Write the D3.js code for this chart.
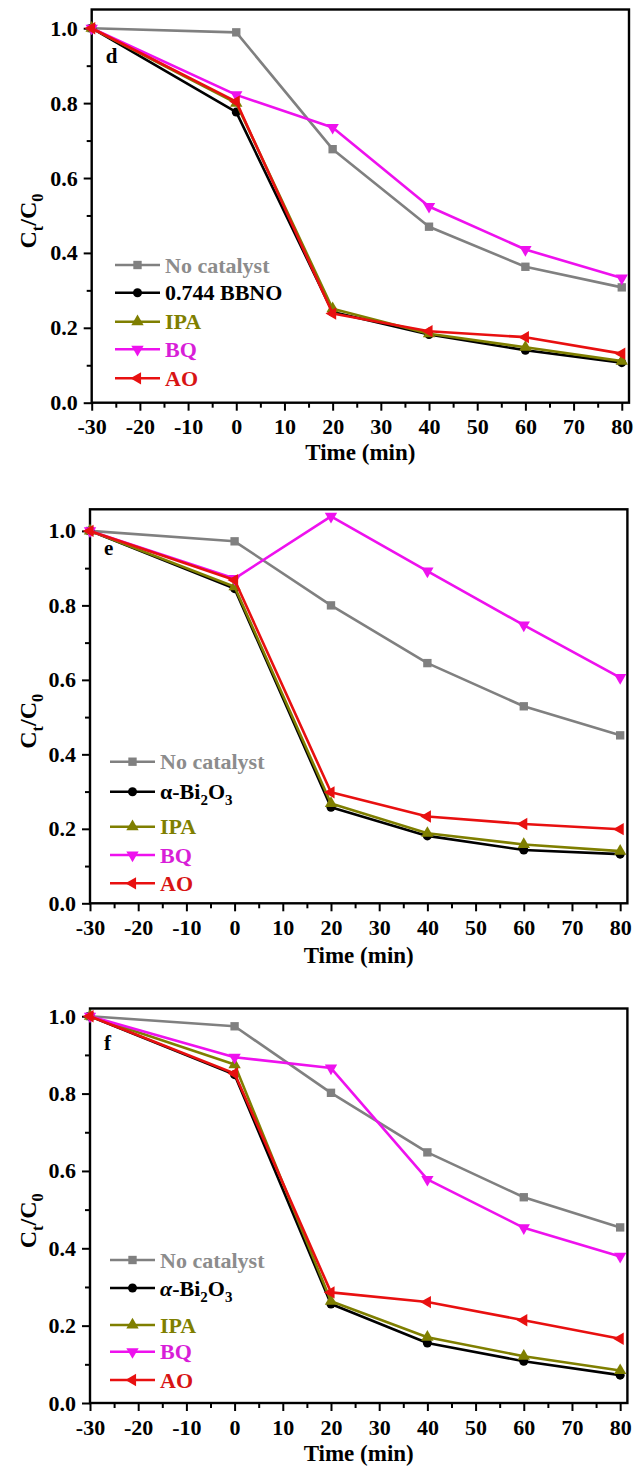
<!DOCTYPE html>
<html><head><meta charset="utf-8">
<script src="https://cdn.jsdelivr.net/npm/d3@7"></script>
<style>body{margin:0;background:#fff}</style>
</head><body>
<script>
// ---------- data ----------
const times = [-30, 0, 20, 40, 60, 80];
const xTicks = [-30, -20, -10, 0, 10, 20, 30, 40, 50, 60, 70, 80];
const xMinor = [-25, -15, -5, 5, 15, 25, 35, 45, 55, 65, 75];
const yTicks = [0, 0.2, 0.4, 0.6, 0.8, 1.0];
const yMinor = [0.1, 0.3, 0.5, 0.7, 0.9];

const dLabels = ["No catalyst", "0.744 BBNO", "IPA", "BQ", "AO"];
const eLabels = ["No catalyst", "α-Bi_2O_3", "IPA", "BQ", "AO"];
const fLabels = ["No catalyst", "α-Bi_2O_3", "IPA", "BQ", "AO"];

const dNoCat = [1.0, 0.989, 0.677, 0.470, 0.363, 0.308];
const dCat   = [1.0, 0.776, 0.242, 0.182, 0.140, 0.107];
const dIPA   = [1.0, 0.800, 0.251, 0.184, 0.148, 0.111];
const dBQ    = [1.0, 0.822, 0.735, 0.524, 0.409, 0.333];
const dAO    = [1.0, 0.804, 0.238, 0.191, 0.175, 0.131];

const eNoCat = [1.0, 0.972, 0.800, 0.645, 0.529, 0.451];
const eCat   = [1.0, 0.845, 0.258, 0.181, 0.143, 0.132];
const eIPA   = [1.0, 0.850, 0.268, 0.188, 0.158, 0.140];
const eBQ    = [1.0, 0.872, 1.039, 0.892, 0.747, 0.606];
const eAO    = [1.0, 0.868, 0.298, 0.233, 0.213, 0.199];

const fNoCat = [1.0, 0.974, 0.802, 0.648, 0.532, 0.454];
const fCat   = [1.0, 0.849, 0.256, 0.155, 0.108, 0.072];
const fIPA   = [1.0, 0.875, 0.263, 0.170, 0.121, 0.084];
const fBQ    = [1.0, 0.894, 0.866, 0.578, 0.453, 0.379];
const fAO    = [1.0, 0.852, 0.286, 0.261, 0.214, 0.166];

// ---------- style ----------
const colors = ["#808080", "#000000", "#7f7f00", "#ee11ee", "#e81010"];
const textColors = ["#8c8c8c", "#000000", "#7f7f00", "#d81ed8", "#d81414"];
const shapes = [d3.symbolSquare, d3.symbolCircle, d3.symbolTriangle, d3.symbolTriangle, d3.symbolTriangle];
const rots = [0, 0, 0, 180, -90];
const sizes = [70, 64, 66, 66, 66];
const FONT = "'Liberation Serif','Times New Roman',serif";

const W = 634, H = 1468;
const svg = d3.select("body").append("svg").attr("width", W).attr("height", H)
  .style("font-family", FONT).style("font-weight", "bold");

function addSubText(sel, label, size) {
  const parts = label.split(/_(\w)/);
  parts.forEach((p, i) => {
    if (p === "") return;
    if (i % 2 === 1) {
      sel.append("tspan").attr("font-size", size * 0.68).attr("dy", size * 0.28).text(p);
    } else {
      sel.append("tspan").attr("dy", i === 0 ? 0 : -size * 0.28).text(p);
    }
  });
}

function panel(cfg) {
  const x = d3.scaleLinear().domain([-30, 81.5]).range([cfg.left, cfg.right]);
  const y = d3.scaleLinear().domain([0, cfg.ymax]).range([cfg.bottom, cfg.top]);
  const g = svg.append("g");

  // x axis
  g.append("g").attr("transform", `translate(0,${cfg.bottom})`)
    .call(d3.axisBottom(x).tickValues(xTicks).tickSize(8).tickSizeOuter(0).tickPadding(8).tickFormat(d => String(d)));
  g.append("g").attr("transform", `translate(0,${cfg.bottom})`)
    .call(d3.axisBottom(x).tickValues(xMinor).tickSize(5).tickSizeOuter(0).tickFormat(""));
  // y axis
  g.append("g").attr("transform", `translate(${cfg.left},0)`)
    .call(d3.axisLeft(y).tickValues(yTicks).tickSize(8).tickSizeOuter(0).tickPadding(6).tickFormat(d3.format(".1f")));
  g.append("g").attr("transform", `translate(${cfg.left},0)`)
    .call(d3.axisLeft(y).tickValues(yMinor).tickSize(5).tickSizeOuter(0).tickFormat(""));
  g.selectAll(".domain").remove();
  g.selectAll(".tick line").attr("stroke", "#000").attr("stroke-width", 2);
  g.selectAll(".tick text").attr("font-size", 22).attr("font-family", FONT).attr("font-weight", "bold").attr("fill", "#000");

  // frame
  g.append("rect").attr("x", cfg.left).attr("y", cfg.top)
    .attr("width", cfg.right - cfg.left).attr("height", cfg.bottom - cfg.top)
    .attr("fill", "none").attr("stroke", "#000").attr("stroke-width", 2.4);

  // series
  const line = d3.line().x((d, i) => x(times[i])).y(d => y(d));
  cfg.series.forEach((s, k) => {
    g.append("path").attr("d", line(s)).attr("fill", "none")
      .attr("stroke", colors[k]).attr("stroke-width", 2.6).attr("stroke-linejoin", "round");
    const sym = d3.symbol().type(shapes[k]).size(sizes[k]);
    g.selectAll(null).data(s).enter().append("path")
      .attr("d", sym)
      .attr("transform", (d, i) => `translate(${x(times[i])},${y(d)}) rotate(${rots[k]})`)
      .attr("fill", colors[k]);
  });

  // legend
  cfg.labels.forEach((lab, k) => {
    const ly = cfg.legendY[k];
    g.append("line").attr("x1", cfg.legX).attr("x2", cfg.legX + 45).attr("y1", ly).attr("y2", ly)
      .attr("stroke", colors[k]).attr("stroke-width", 2.6);
    g.append("path").attr("d", d3.symbol().type(shapes[k]).size(sizes[k])())
      .attr("transform", `translate(${cfg.legX + 22.5},${ly}) rotate(${rots[k]})`)
      .attr("fill", colors[k]);
    const t = g.append("text").attr("x", cfg.legX + 50).attr("y", ly + 7.5)
      .attr("font-size", 22).attr("fill", textColors[k]);
    if (lab.startsWith("α") && cfg.italicAlpha) {
      t.append("tspan").attr("font-style", "italic").text("α");
      addSubText(t, lab.slice(1), 22);
    } else {
      addSubText(t, lab, 22);
    }
  });

  // panel letter
  g.append("text").attr("x", cfg.left + 14).attr("y", cfg.letterY)
    .attr("font-size", 21).attr("fill", "#000").text(cfg.letter);

  // axis titles
  g.append("text").attr("x", (cfg.left + cfg.right) / 2).attr("y", cfg.bottom + cfg.titleOff)
    .attr("text-anchor", "middle").attr("font-size", 23).attr("fill", "#000").text("Time (min)");
  const yt = g.append("text")
    .attr("transform", `translate(36,${(cfg.top + cfg.bottom) / 2 + 15}) rotate(-90)`)
    .attr("text-anchor", "middle").attr("font-size", 24).attr("fill", "#000");
  addSubText(yt, "C_t/C_0", 24);
}

panel({left: 91.7, right: 629, top: 9.5, bottom: 402.7, ymax: 1.05,
  series: [dNoCat, dCat, dIPA, dBQ, dAO], labels: dLabels,
  legendY: [265, 292.7, 321.7, 349.3, 378.3], legX: 115, letter: "d", letterY: 63, titleOff: 57});
panel({left: 90, right: 627.4, top: 509.3, bottom: 903.3, ymax: 1.058,
  series: [eNoCat, eCat, eIPA, eBQ, eAO], labels: eLabels,
  legendY: [761.7, 791.7, 826.7, 855, 883.3], legX: 110, letter: "e", letterY: 555, titleOff: 60});
panel({left: 90, right: 627.4, top: 1008.5, bottom: 1403, ymax: 1.02,
  series: [fNoCat, fCat, fIPA, fBQ, fAO], labels: fLabels, italicAlpha: true,
  legendY: [1260, 1288, 1325, 1351.7, 1380], legX: 110, letter: "f", letterY: 1050, titleOff: 58});
</script>
</body></html>
